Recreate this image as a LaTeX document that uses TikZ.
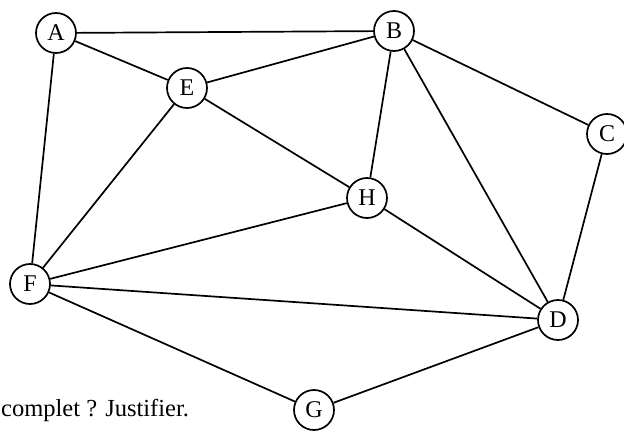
\documentclass[tikz,border=0pt]{standalone}
\usepackage{fontspec}
\setmainfont{Liberation Serif}
\begin{document}
\begin{tikzpicture}[x=1pt,y=-1pt,
  vertex/.style={draw,circle,line width=1.7pt,minimum size=40pt,inner sep=0pt,font=\fontsize{24}{28}\selectfont},
  edge/.style={line width=1.7pt}]
\useasboundingbox (0,0) rectangle (624,433);
\node[vertex] (A) at (56,33) {A};
\node[vertex] (B) at (394,31) {B};
\node[vertex] (C) at (607,134) {C};
\node[vertex] (D) at (558,320) {D};
\node[vertex] (E) at (187,88) {E};
\node[vertex] (F) at (30,284) {F};
\node[vertex] (G) at (314,410) {G};
\node[vertex] (H) at (367,198) {H};
\draw[edge] (A) -- (B);
\draw[edge] (A) -- (E);
\draw[edge] (A) -- (F);
\draw[edge] (E) -- (B);
\draw[edge] (E) -- (H);
\draw[edge] (E) -- (F);
\draw[edge] (B) -- (H);
\draw[edge] (B) -- (D);
\draw[edge] (B) -- (C);
\draw[edge] (C) -- (D);
\draw[edge] (H) -- (F);
\draw[edge] (H) -- (D);
\draw[edge] (F) -- (D);
\draw[edge] (F) -- (G);
\draw[edge] (G) -- (D);
\node[anchor=base west,inner sep=0pt,font=\fontsize{24.5}{29}\selectfont] (q) at (1,416) {complet ? Justifier.};
\end{tikzpicture}
\end{document}
